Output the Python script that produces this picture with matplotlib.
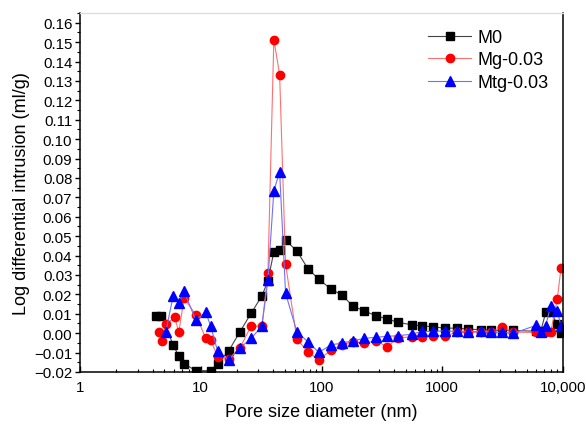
import matplotlib
matplotlib.use("Agg")
import matplotlib.pyplot as plt
from matplotlib.ticker import FixedLocator, FuncFormatter, MultipleLocator, LogLocator, NullFormatter

plt.rcParams['font.family'] = ['Liberation Sans', 'DejaVu Sans']

# --- data ---
m0_x = [4.30, 4.73, 5.90, 6.58, 7.28, 9.09, 12.1, 13.8, 17.0, 21.0, 26.2, 32.1, 36.0, 40.3, 45.0,
        50.4, 62.5, 77.1, 95.0, 120, 148, 181, 227, 283, 349, 433, 558, 675, 832, 1052, 1313,
        1640, 2089, 2525, 3150, 3880, 5940, 6540, 7190, 7910, 8970, 9620]
m0_y = [0.009, 0.009, -0.006, -0.0118, -0.0157, -0.0193, -0.0193, -0.0157, -0.0092, 0.0005,
        0.0104, 0.0192, 0.027, 0.0419, 0.0429, 0.0479, 0.0424, 0.0333, 0.0278, 0.0227, 0.0196,
        0.0141, 0.0114, 0.009, 0.0073, 0.0056, 0.0043, 0.0038, 0.0033, 0.0026, 0.0026, 0.0021,
        0.0018, 0.0016, 0.0015, 0.0014, 0.0010, 0.0010, 0.0107, 0.0107, 0.0047, 0.0001]

mg_x = [4.53, 4.82, 5.14, 6.10, 6.58, 7.28, 9.09, 11.0, 12.1, 13.8, 17.0, 21.0, 26.2, 32.1, 36.0,
        40.3, 45.0, 50.4, 62.5, 77.1, 95.0, 120, 148, 181, 227, 283, 349, 433, 558, 675, 832,
        1052, 1313, 1640, 2089, 2525, 3150, 3880, 5940, 6540, 7190, 7910, 8970, 9620]
mg_y = [0.0005, -0.0038, 0.0045, 0.0081, 0.0005, 0.018, 0.0096, -0.0027, -0.0036, -0.0121,
        -0.0133, -0.0078, 0.0038, 0.0035, 0.0309, 0.1513, 0.1333, 0.0356, -0.0030, -0.0096,
        -0.0138, -0.0087, -0.006, -0.0044, -0.0051, -0.0039, -0.007, -0.0025, -0.0018, -0.0021,
        -0.0013, -0.0013, 0.0004, 0.0007, 0.0004, 0.0007, 0.0030, 0.0005, 0.0004, 0.0004,
        0.0004, 0.0004, 0.0177, 0.0334]

mtg_x = [5.14, 5.90, 6.58, 7.28, 9.09, 11.0, 12.1, 13.8, 17.0, 21.0, 26.2, 32.1, 36.0, 40.3,
         45.0, 50.4, 62.5, 77.1, 95.0, 120, 148, 181, 227, 283, 349, 433, 558, 675, 832, 1052,
         1313, 1640, 2089, 2525, 3150, 3880, 5940, 6540, 7190, 7910, 8970, 9620]
mtg_y = [0.0008, 0.019, 0.0158, 0.0216, 0.0067, 0.0108, 0.0035, -0.0093, -0.0138, -0.0077,
         -0.0027, 0.0038, 0.0273, 0.0733, 0.0832, 0.0206, 0.0007, -0.0044, -0.0099, -0.006,
         -0.0051, -0.0039, -0.0027, -0.0021, -0.0016, -0.0013, -0.0005, 0.0009, 0.0009, 0.0012,
         0.0009, 0.0007, 0.0009, 0.0007, 0.0004, -0.0001, 0.004, 0.0007, 0.0038, 0.0141, 0.0115,
         0.0038]

series_labels = ["M0", "Mg-0.03", "Mtg-0.03"]
x_ticks = [1, 10, 100, 1000, 10000]
x_tick_labels = ["1", "10", "100", "1000", "10,000"]

fig = plt.figure(figsize=(5.86, 4.27), dpi=100)
ax = fig.add_axes([80/586, 1-373/427, (563-80)/586, (373-14)/427])

ax.plot(m0_x, m0_y, color='#444444', lw=0.8, marker='s', ms=5.2, mfc='black', mec='black',
        label=series_labels[0])
ax.plot(mg_x, mg_y, color='#ff7070', lw=0.8, marker='o', ms=6, mfc='#ff0000', mec='#ff0000',
        label=series_labels[1])
ax.plot(mtg_x, mtg_y, color='#7070ff', lw=0.8, marker='^', ms=6.5, mfc='#0000ff', mec='#0000ff',
        label=series_labels[2])

ax.set_xscale('log')
ax.set_xlim(1, 10000)
ax.set_ylim(-0.02, 0.165)
ax.xaxis.set_major_locator(FixedLocator(x_ticks))
ax.xaxis.set_major_formatter(FuncFormatter(lambda v, p: x_tick_labels[x_ticks.index(round(v))] if round(v) in x_ticks else ""))
ax.xaxis.set_minor_locator(LogLocator(base=10, subs=range(2, 10)))
ax.xaxis.set_minor_formatter(NullFormatter())
ax.yaxis.set_major_locator(MultipleLocator(0.01))
ax.yaxis.set_minor_locator(MultipleLocator(0.005))
ax.yaxis.set_major_formatter(FuncFormatter(lambda v, p: f"{v:.2f}".replace("-", "\u2212") if v < -1e-9 else f"{abs(v):.2f}"))

ax.tick_params(axis='x', which='both', direction='in', labelsize=10.8, pad=6)
ax.tick_params(axis='x', which='major', length=4, width=1)
ax.tick_params(axis='x', which='minor', length=2.5, width=0.8)
ax.tick_params(axis='y', which='both', direction='out', labelsize=10.8, pad=2)
ax.tick_params(axis='y', which='major', length=3.5, width=1)
ax.tick_params(axis='y', which='minor', length=2, width=0.8)

for s in ['left', 'bottom', 'right']:
    ax.spines[s].set_color('black')
    ax.spines[s].set_linewidth(1.1)
ax.spines['top'].set_color('#dddddd')
ax.spines['top'].set_linewidth(1.0)

ax.set_xlabel("Pore size diameter (nm)", fontsize=13, labelpad=6)
ax.set_ylabel("Log differential intrusion (ml/g)", fontsize=13, labelpad=3)

leg = ax.legend(loc='upper left', bbox_to_anchor=(428/586, 1-30/427), bbox_transform=fig.transFigure,
                frameon=False, fontsize=13, borderpad=0, borderaxespad=0, handlelength=2.4,
                handletextpad=0.35, labelspacing=0.3)

fig.savefig("out.png", dpi=100)
